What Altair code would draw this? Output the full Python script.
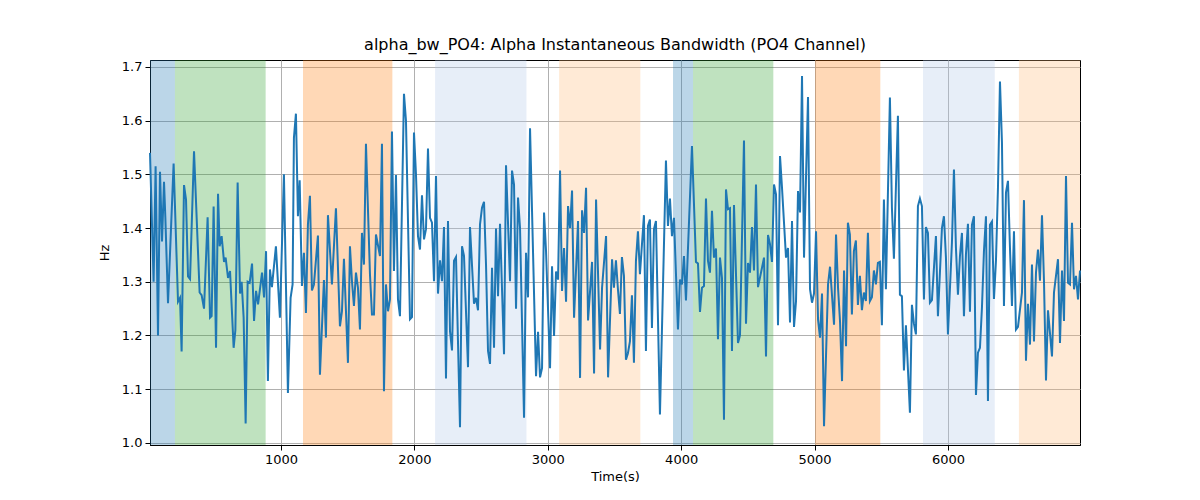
import altair as alt
import pandas as pd

# ---- data ----
time_s = [
    18, 45, 60, 78, 93, 108, 123, 133, 153, 195, 228, 243, 255, 273, 288, 303, 318, 348, 390, 405,
    423, 450, 468, 480, 495, 513, 528, 540, 555, 573, 585, 603, 618, 645, 658, 675, 693, 705, 720, 735,
    750, 765, 783, 798, 813, 828, 858, 873, 888,
    902, 917, 932, 962, 992, 1022, 1052, 1072, 1087, 1097, 1112, 1127, 1140, 1157, 1172, 1187, 1202, 1217, 1232, 1247,
    1277, 1292, 1322, 1337, 1352, 1382, 1412, 1442, 1457, 1472, 1502, 1517, 1532, 1547, 1562, 1577, 1592, 1607, 1622, 1637,
    1667, 1682, 1697, 1712, 1742, 1757,
    1772, 1787, 1802, 1817, 1832, 1847, 1862, 1877, 1892, 1922, 1937, 1967, 1982, 1997, 2012, 2027, 2042, 2057, 2072, 2087,
    2102, 2117, 2132, 2147, 2162, 2177, 2192, 2207, 2222, 2237, 2252, 2267, 2282, 2297, 2312, 2342, 2357, 2372, 2402, 2417,
    2447, 2462, 2477, 2492, 2507, 2522, 2537, 2552, 2567, 2582, 2597, 2612,
    2627, 2642, 2672, 2687, 2717, 2732, 2747, 2762, 2777, 2792, 2822, 2837, 2852, 2867, 2912, 2927, 2942, 2957, 2972, 2987,
    3017, 3032, 3047, 3062, 3077, 3092, 3107, 3122, 3137, 3152, 3167, 3182, 3197, 3227, 3242, 3257, 3272, 3287, 3302, 3332,
    3347, 3362, 3392, 3407, 3437, 3452, 3482,
    3496, 3511, 3526, 3541, 3556, 3571, 3586, 3601, 3616, 3631, 3646, 3661, 3676, 3691, 3721, 3736, 3751, 3766, 3781, 3796,
    3811, 3841, 3886, 3901, 3916, 3931, 3946, 3976, 3991, 4006, 4021, 4036, 4081, 4111, 4126, 4141, 4156, 4171, 4186, 4201,
    4216, 4231, 4246, 4261, 4276, 4291, 4306, 4321, 4336, 4351, 4366,
    4381, 4396, 4426, 4441, 4471, 4486, 4501, 4516, 4531, 4546, 4561, 4576, 4606, 4621, 4636, 4651, 4666, 4681, 4696, 4711,
    4726, 4741, 4756, 4786, 4801, 4816, 4831, 4846, 4861, 4876, 4891, 4906, 4921, 4951, 4966, 4981, 4996, 5011, 5026, 5041,
    5056, 5071, 5101, 5116, 5146, 5161, 5176, 5191, 5206, 5221, 5236,
    5250, 5265, 5280, 5295, 5310, 5325, 5340, 5355, 5370, 5385, 5400, 5415, 5430, 5445, 5460, 5475, 5490, 5505, 5520, 5535,
    5565, 5580, 5595, 5625, 5640, 5655, 5670, 5685, 5715, 5730, 5745, 5760, 5775, 5790, 5805, 5820, 5835, 5850, 5865, 5880,
    5910, 5925, 5955, 5970, 5985, 6000, 6030, 6045, 6060, 6075, 6090, 6105,
    6120, 6135, 6150, 6165, 6180, 6195, 6210, 6225, 6240, 6255, 6270, 6285, 6300, 6315, 6330, 6345, 6360, 6375, 6390, 6405,
    6420, 6435, 6450, 6465, 6480, 6495, 6510, 6525, 6555, 6570, 6585, 6600, 6615, 6630, 6645, 6660, 6675, 6690, 6705, 6720,
    6735, 6750, 6780, 6795, 6825, 6840, 6855, 6870, 6885, 6900, 6915, 6930, 6945, 6960, 6975, 6990,
]

bandwidth_hz = [
    1.54, 1.30, 1.515, 1.20, 1.505, 1.375, 1.486, 1.42, 1.26, 1.52, 1.263, 1.27, 1.17, 1.48, 1.453, 1.31, 1.305, 1.543, 1.28, 1.275,
    1.25, 1.42, 1.233, 1.236, 1.44, 1.177, 1.464, 1.366, 1.385, 1.337, 1.345, 1.307, 1.32, 1.177, 1.21, 1.485, 1.278, 1.30, 1.233, 1.036,
    1.30, 1.298, 1.334, 1.227, 1.283, 1.258, 1.317, 1.271, 1.357,
    1.115, 1.323, 1.29, 1.366, 1.233, 1.50, 1.093, 1.27, 1.295, 1.568, 1.613, 1.422, 1.489, 1.292, 1.354, 1.242, 1.407, 1.46, 1.284, 1.295,
    1.386, 1.127, 1.303, 1.196, 1.424, 1.295, 1.437, 1.217, 1.245, 1.343, 1.149, 1.366, 1.301, 1.255, 1.317, 1.289, 1.211, 1.391, 1.332, 1.557,
    1.314, 1.239, 1.239, 1.388, 1.348, 1.557,
    1.096, 1.295, 1.245, 1.267, 1.58, 1.32, 1.499, 1.267, 1.236, 1.65, 1.60, 1.23, 1.234, 1.578, 1.50, 1.385, 1.36, 1.461, 1.379, 1.398,
    1.548, 1.419, 1.41, 1.301, 1.497, 1.278, 1.34, 1.301, 1.402, 1.12, 1.413, 1.208, 1.172, 1.339, 1.346, 1.029, 1.366, 1.348, 1.141, 1.402,
    1.259, 1.27, 1.247, 1.407, 1.438, 1.449, 1.332, 1.171, 1.147, 1.326, 1.177, 1.399,
    1.273, 1.408, 1.165, 1.517, 1.301, 1.507, 1.481, 1.25, 1.457, 1.40, 1.047, 1.354, 1.271, 1.586, 1.124, 1.207, 1.122, 1.139, 1.429, 1.357,
    1.139, 1.329, 1.199, 1.319, 1.304, 1.507, 1.283, 1.363, 1.263, 1.441, 1.40, 1.47, 1.233, 1.413, 1.121, 1.433, 1.391, 1.475, 1.228, 1.337,
    1.129, 1.453, 1.174, 1.289, 1.385, 1.122, 1.342,
    1.289, 1.34, 1.286, 1.24, 1.346, 1.311, 1.155, 1.167, 1.189, 1.275, 1.149, 1.339, 1.394, 1.314, 1.424, 1.171, 1.404, 1.416, 1.214, 1.398,
    1.413, 1.053, 1.526, 1.404, 1.455, 1.385, 1.419, 1.211, 1.304, 1.295, 1.348, 1.265, 1.553, 1.337, 1.334, 1.244, 1.289, 1.292, 1.455, 1.339,
    1.317, 1.432, 1.345, 1.362, 1.193, 1.345, 1.307, 1.043, 1.472, 1.435, 1.437,
    1.171, 1.443, 1.186, 1.20, 1.563, 1.222, 1.335, 1.317, 1.402, 1.321, 1.481, 1.29, 1.326, 1.345, 1.161, 1.387, 1.37, 1.337, 1.481, 1.463,
    1.219, 1.534, 1.475, 1.345, 1.363, 1.224, 1.413, 1.216, 1.264, 1.469, 1.429, 1.683, 1.345, 1.644, 1.286, 1.261, 1.278, 1.394, 1.23, 1.196,
    1.278, 1.031, 1.295, 1.328, 1.22, 1.388, 1.289, 1.226, 1.115, 1.321, 1.18,
    1.41, 1.388, 1.239, 1.357, 1.377, 1.257, 1.311, 1.247, 1.28, 1.264, 1.391, 1.264, 1.271, 1.321, 1.295, 1.335, 1.337, 1.219, 1.453, 1.286,
    1.643, 1.438, 1.343, 1.609, 1.276, 1.273, 1.135, 1.219, 1.056, 1.257, 1.222, 1.202, 1.441, 1.455, 1.441, 1.267, 1.402, 1.391, 1.261, 1.266,
    1.385, 1.236, 1.40, 1.422, 1.345, 1.202, 1.373, 1.509, 1.363, 1.276, 1.348, 1.391,
    1.236, 1.351, 1.408, 1.244, 1.406, 1.422, 1.089, 1.168, 1.177, 1.252, 1.357, 1.422, 1.078, 1.406, 1.412, 1.268, 1.339, 1.475, 1.673, 1.559,
    1.255, 1.466, 1.488, 1.363, 1.255, 1.394, 1.211, 1.216, 1.28, 1.452, 1.153, 1.259, 1.183, 1.332, 1.189, 1.317, 1.36, 1.302, 1.424, 1.301,
    1.116, 1.247, 1.161, 1.28, 1.342, 1.186, 1.321, 1.227, 1.497, 1.298, 1.295, 1.41, 1.286, 1.311, 1.267, 1.321,
]

span_start = [18, 205, 1165, 2155, 3085, 3939, 4089, 5004, 5813, 6532]
span_end = [205, 885, 1835, 2840, 3694, 4089, 4691, 5493, 6351, 6990]
span_kind = ["A", "B", "C", "D", "E", "A", "B", "C", "D", "E"]

y_ticks = [1.0, 1.1, 1.2, 1.3, 1.4, 1.5, 1.6, 1.7]
x_ticks = [1000, 2000, 3000, 4000, 5000, 6000]

# ---- tables ----
line_df = pd.DataFrame({"t": time_s, "bw": bandwidth_hz})
span_df = pd.DataFrame({"start": span_start, "end": span_end, "kind": span_kind})

FONT = "DejaVu Sans"
x_scale = alt.Scale(domain=[18, 6990], nice=False, zero=False)
y_scale = alt.Scale(domain=[0.996, 1.713], nice=False, zero=False)

spans = alt.Chart(span_df).mark_rect(opacity=0.3).encode(
    x=alt.X("start:Q", scale=x_scale),
    x2="end:Q",
    color=alt.Color(
        "kind:N",
        scale=alt.Scale(
            domain=["A", "B", "C", "D", "E"],
            range=["#1f77b4", "#2ca02c", "#ff7f0e", "#aec7e8", "#ffbb78"],
        ),
        legend=None,
    ),
)

line = alt.Chart(line_df).mark_line(color="#1f77b4", strokeWidth=2).encode(
    x=alt.X(
        "t:Q",
        scale=x_scale,
        axis=alt.Axis(
            title="Time(s)",
            values=x_ticks,
            format="d",
            grid=True,
        ),
    ),
    y=alt.Y(
        "bw:Q",
        scale=y_scale,
        axis=alt.Axis(
            title="Hz",
            values=y_ticks,
            format=".1f",
            grid=True,
        ),
    ),
)

chart = (
    alt.layer(spans, line)
    .properties(
        width=930,
        height=385,
        title=alt.TitleParams(
            "alpha_bw_PO4: Alpha Instantaneous Bandwidth (PO4 Channel)",
            font=FONT,
            fontSize=16,
            fontWeight="normal",
            color="black",
            anchor="middle",
            offset=7,
        ),
        autosize=alt.AutoSizeParams(type="none"),
        padding={"left": 142, "top": 52, "right": 100, "bottom": 47},
    )
    .configure_axis(
        labelFont=FONT,
        titleFont=FONT,
        labelFontSize=13,
        titleFontSize=13,
        titleFontWeight="normal",
        labelColor="black",
        titleColor="black",
        domainColor="black",
        tickColor="black",
        tickSize=5,
        labelPadding=3,
        gridColor="#b0b0b0",
        gridWidth=1,
    )
    .configure_axisY(titlePadding=10)
    .configure_axisX(titlePadding=4)
    .configure_view(stroke="black", strokeWidth=1)
)

chart.save("out.html", embed_options={"renderer": "svg", "actions": False})
